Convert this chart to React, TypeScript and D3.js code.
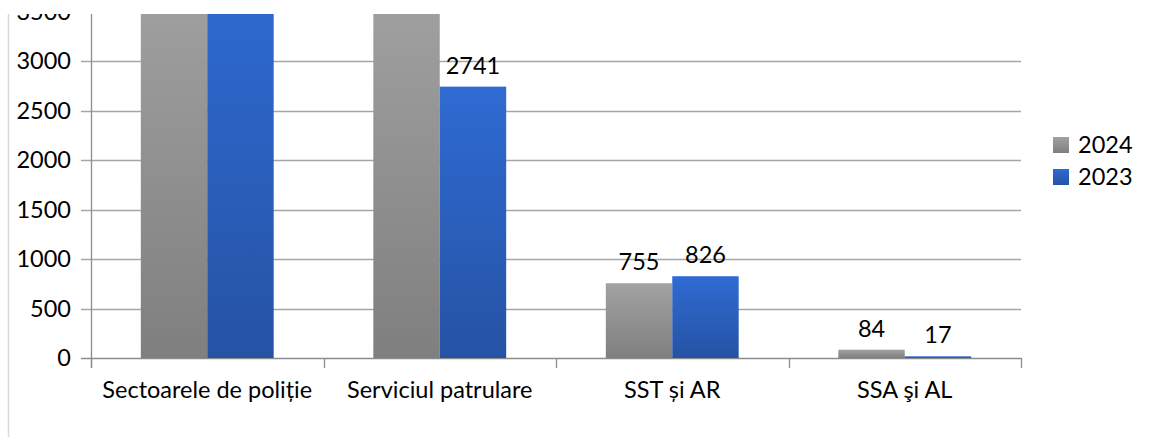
import React from "react";
import * as d3 from "d3";

const categories = ["Sectoarele de poliție", "Serviciul patrulare", "SST și AR", "SSA şi AL"];
const seriesNames = ["2024", "2023"];
const values2024 = [3900, 3800, 755, 84];
const values2023 = [3850, 2741, 826, 17];
const yTicks = [0, 500, 1000, 1500, 2000, 2500, 3000, 3500];

const W = 1155;
const H = 437;
const CLIP_TOP = 14;
const FONT = "Lato, 'Open Sans', sans-serif";
const FS = 23.5;

export default function App() {
  const left = 91;
  const right = 1021;
  const bottom = 358;
  const y = d3.scaleLinear().domain([0, 4000]).range([bottom, bottom - 396]);
  const x0 = d3.scaleBand<string>().domain(categories).range([left, right]).paddingInner(0).paddingOuter(0);
  const x1 = d3
    .scaleBand<string>()
    .domain(seriesNames)
    .range([0, x0.bandwidth()])
    .paddingInner(0)
    .paddingOuter(0.75);
  const data = [values2024, values2023];
  const fills = ["url(#gGray)", "url(#gBlue)"];
  const boundaries = [...categories.map((c) => x0(c) as number), right];

  return (
    <svg
      width={W}
      height={H}
      style={{ position: "absolute", left: 0, top: 0, background: "#fff" }}
      fontFamily={FONT}
    >
      <defs>
        <linearGradient id="gGray" x1="0" y1="0" x2="0" y2="1">
          <stop offset="0" stopColor="#a2a2a2" />
          <stop offset="1" stopColor="#7f7f7f" />
        </linearGradient>
        <linearGradient id="gBlue" x1="0" y1="0" x2="0" y2="1">
          <stop offset="0" stopColor="#2f6bd3" />
          <stop offset="1" stopColor="#2553a4" />
        </linearGradient>
        <clipPath id="clipTop">
          <rect x={0} y={CLIP_TOP} width={W} height={H - CLIP_TOP} />
        </clipPath>
      </defs>
      <g clipPath="url(#clipTop)">
        <line x1={8.5} x2={8.5} y1={0} y2={H} stroke="#d9d9d9" strokeWidth={1.5} />
        {yTicks.map((t) => (
          <line
            key={"g" + t}
            x1={left - 10}
            x2={right}
            y1={Math.round(y(t)) + 0.5}
            y2={Math.round(y(t)) + 0.5}
            stroke={t === 0 ? "#8c8c8c" : "#a6a6a6"}
            strokeWidth={1.3}
          />
        ))}
        <line x1={left + 0.5} x2={left + 0.5} y1={0} y2={bottom + 10} stroke="#8c8c8c" strokeWidth={1.3} />
        {boundaries.map((b, i) => (
          <line
            key={"ct" + i}
            x1={Math.round(b) + 0.5}
            x2={Math.round(b) + 0.5}
            y1={bottom}
            y2={bottom + 10}
            stroke="#8c8c8c"
            strokeWidth={1.3}
          />
        ))}
        {yTicks.map((t) => (
          <text
            key={"yl" + t}
            x={71}
            y={y(t)}
            dy="0.36em"
            textAnchor="end"
            fontSize={FS}
            fill="#000"
          >
            {t}
          </text>
        ))}
        {categories.map((c, ci) =>
          seriesNames.map((s, si) => {
            const v = data[si][ci];
            const bx = (x0(c) as number) + (x1(s) as number);
            const by = y(v);
            const labelY = by - 13;
            return (
              <g key={c + s}>
                <rect x={bx} y={by} width={x1.bandwidth()} height={bottom - by} fill={fills[si]} />
                {labelY > CLIP_TOP + 20 && (
                  <text
                    x={bx + x1.bandwidth() / 2}
                    y={labelY}
                    textAnchor="middle"
                    fontSize={FS}
                    fill="#000"
                  >
                    {v}
                  </text>
                )}
              </g>
            );
          })
        )}
        {categories.map((c) => (
          <text
            key={"cl" + c}
            x={(x0(c) as number) + x0.bandwidth() / 2}
            y={398}
            textAnchor="middle"
            fontSize={FS}
            fill="#000"
          >
            {c}
          </text>
        ))}
        {seriesNames.map((s, i) => (
          <g key={"lg" + s} transform={`translate(1053, ${137 + i * 32})`}>
            <rect x={0} y={0} width={16} height={16} fill={fills[i]} />
            <text x={25} y={8} dy="0.36em" fontSize={FS} fill="#000">
              {s}
            </text>
          </g>
        ))}
      </g>
    </svg>
  );
}
